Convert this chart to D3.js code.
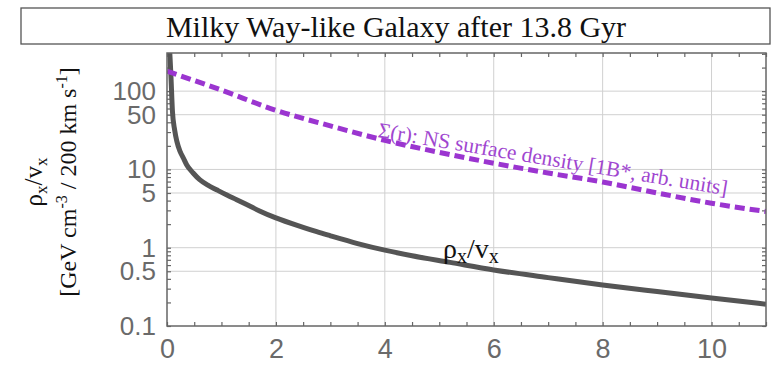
<!DOCTYPE html>
<meta charset="utf-8">
<style>
body { margin: 0; background: #fff; }
.grid line { stroke: #d0d0d0; stroke-width: 1; }
.axis line { stroke: #666; stroke-width: 1.2; }
.axis path { display: none; }
.axis text { fill: #6a6a6a; font-family: "Liberation Sans", Arial, sans-serif; }
.serif { font-family: "Liberation Serif", "Times New Roman", serif; }
</style>
<body>
<svg width="773" height="365"></svg>
<script src="https://cdnjs.cloudflare.com/ajax/libs/d3/7.8.5/d3.min.js"></script>
<script>

// rho_x / v_x curve (GeV cm^-3 / 200 km s^-1) vs r
var rhoR   = [0.03, 0.05, 0.07, 0.1, 0.14, 0.18, 0.24, 0.3, 0.36, 0.48, 0.6, 0.75, 0.91, 1.1, 1.28, 1.5, 1.7, 2.0, 2.5, 2.75, 3.0, 3.5, 4.0, 4.5, 5.2, 6.0, 7.0, 8.0, 9.0, 10.0, 11.0];
var rhoVal = [600, 320, 170, 55, 32, 23, 17, 14, 11.5, 9, 7.4, 6.3, 5.5, 4.7, 4.1, 3.45, 2.95, 2.4, 1.82, 1.6, 1.42, 1.13, 0.93, 0.79, 0.65, 0.52, 0.415, 0.334, 0.275, 0.228, 0.19];

// NS surface density (arb. units)
var sigR   = [0, 1, 2, 3, 4, 5, 6, 7, 8, 9, 10, 11];
var sigVal = [180, 103, 57, 36, 23.5, 16.5, 12, 9, 6.9, 5.0, 3.7, 2.9];

var xTickLabels = [0, 2, 4, 6, 8, 10];
var yTickLabels = [0.1, 0.5, 1, 5, 10, 50, 100];
var yGrid = [0.5, 1, 5, 10, 50, 100];

var svg = d3.select("svg"),
    margin = {top: 53, right: 7, bottom: 39, left: 167},
    width = 773 - margin.left - margin.right,
    height = 365 - margin.top - margin.bottom;

var x = d3.scaleLinear().domain([0, 11]).range([0, width]),
    y = d3.scaleLog().domain([0.1, 307]).range([height, 0]);

// title box
svg.append("rect")
    .attr("x", 21).attr("y", 8).attr("width", 749).attr("height", 36)
    .attr("fill", "none").attr("stroke", "#555").attr("stroke-width", 1.3);
svg.append("text")
    .attr("class", "serif")
    .attr("x", 396).attr("y", 37)
    .attr("text-anchor", "middle")
    .style("font-size", "30px")
    .attr("fill", "#111")
    .text("Milky Way-like Galaxy after 13.8 Gyr");

var g = svg.append("g")
    .attr("transform", "translate(" + margin.left + "," + margin.top + ")");

// grid
g.append("g").attr("class", "grid")
  .selectAll("line").data(xTickLabels.slice(1)).enter().append("line")
    .attr("x1", function(d) { return x(d); }).attr("x2", function(d) { return x(d); })
    .attr("y1", 0).attr("y2", height);
g.append("g").attr("class", "grid")
  .selectAll("line").data(yGrid).enter().append("line")
    .attr("x1", 0).attr("x2", width)
    .attr("y1", function(d) { return y(d); }).attr("y2", function(d) { return y(d); });

// minor tick positions
var xMinor = d3.range(0, 11.01, 0.5);
var yMinor = [];
[0.1, 1, 10, 100].forEach(function(dec) {
  for (var k = 1; k <= 9; k++) { if (dec * k <= 307) yMinor.push(+(dec * k).toPrecision(3)); }
});

function fmtX(d) { return xTickLabels.indexOf(d) >= 0 ? d : ""; }
function fmtY(d) { return yTickLabels.indexOf(d) >= 0 ? String(d) : ""; }

g.append("g").attr("class", "axis")
    .attr("transform", "translate(0," + height + ")")
    .call(d3.axisBottom(x).tickValues(xMinor).tickSize(-4).tickPadding(13).tickFormat(fmtX))
    .selectAll("text").style("font-size", "27px");
g.append("g").attr("class", "axis")
    .call(d3.axisTop(x).tickValues(xMinor).tickSize(-4).tickFormat(""));
g.append("g").attr("class", "axis")
    .call(d3.axisLeft(y).tickValues(yMinor).tickSize(-4).tickPadding(11).tickFormat(fmtY))
    .selectAll("text").style("font-size", "26px");
g.append("g").attr("class", "axis")
    .attr("transform", "translate(" + width + ",0)")
    .call(d3.axisRight(y).tickValues(yMinor).tickSize(-4).tickFormat(""));

// clip
g.append("clipPath").attr("id", "clip")
  .append("rect").attr("width", width).attr("height", height);

var line = d3.line().curve(d3.curveMonotoneX);

var plot = g.append("g").attr("clip-path", "url(#clip)");

plot.append("path")
    .datum(rhoR.map(function(r, i) { return [x(r), y(rhoVal[i])]; }))
    .attr("d", line)
    .attr("fill", "none")
    .attr("stroke", "#555")
    .attr("stroke-width", 5);

plot.append("path")
    .datum(sigR.map(function(r, i) { return [x(r), y(sigVal[i])]; }))
    .attr("d", line)
    .attr("fill", "none")
    .attr("stroke", "#9b35d0")
    .attr("stroke-width", 5)
    .attr("stroke-dasharray", "10,5");

// frame
g.append("rect")
    .attr("width", width).attr("height", height)
    .attr("fill", "none").attr("stroke", "#666").attr("stroke-width", 1.5);

// curve labels
g.append("text")
    .attr("class", "serif")
    .attr("transform", "translate(" + x(3.86) + "," + y(26) + ") rotate(9.5)")
    .attr("fill", "#a046d0")
    .style("font-size", "21.5px")
    .text("\u03A3(r): NS surface density [1B*, arb. units]");

var rl = g.append("text")
    .attr("class", "serif")
    .attr("x", x(5.07)).attr("y", y(0.74))
    .attr("fill", "#111")
    .style("font-size", "28px");
rl.append("tspan").text("\u03C1");
rl.append("tspan").attr("dy", 5).style("font-size", "20px").text("x");
rl.append("tspan").attr("dy", -5).text("/v");
rl.append("tspan").attr("dy", 5).style("font-size", "20px").text("x");

// y axis title
var yl1 = svg.append("text")
    .attr("class", "serif")
    .attr("transform", "translate(33,182) rotate(-90)")
    .attr("text-anchor", "middle").attr("dy", "0.35em")
    .attr("fill", "#111")
    .style("font-size", "25px");
yl1.append("tspan").text("\u03C1");
yl1.append("tspan").attr("dy", 5).style("font-size", "17px").text("x");
yl1.append("tspan").attr("dy", -5).text("/v");
yl1.append("tspan").attr("dy", 5).style("font-size", "17px").text("x");

var yl2 = svg.append("text")
    .attr("class", "serif")
    .attr("transform", "translate(68,182) rotate(-90)")
    .attr("text-anchor", "middle").attr("dy", "0.35em")
    .attr("fill", "#111")
    .style("font-size", "24px");
yl2.append("tspan").text("[GeV cm");
yl2.append("tspan").attr("dy", -9).style("font-size", "16px").text("-3");
yl2.append("tspan").attr("dy", 9).text(" / 200 km s");
yl2.append("tspan").attr("dy", -9).style("font-size", "16px").text("-1");
yl2.append("tspan").attr("dy", 9).text("]");

</script>
</body>
